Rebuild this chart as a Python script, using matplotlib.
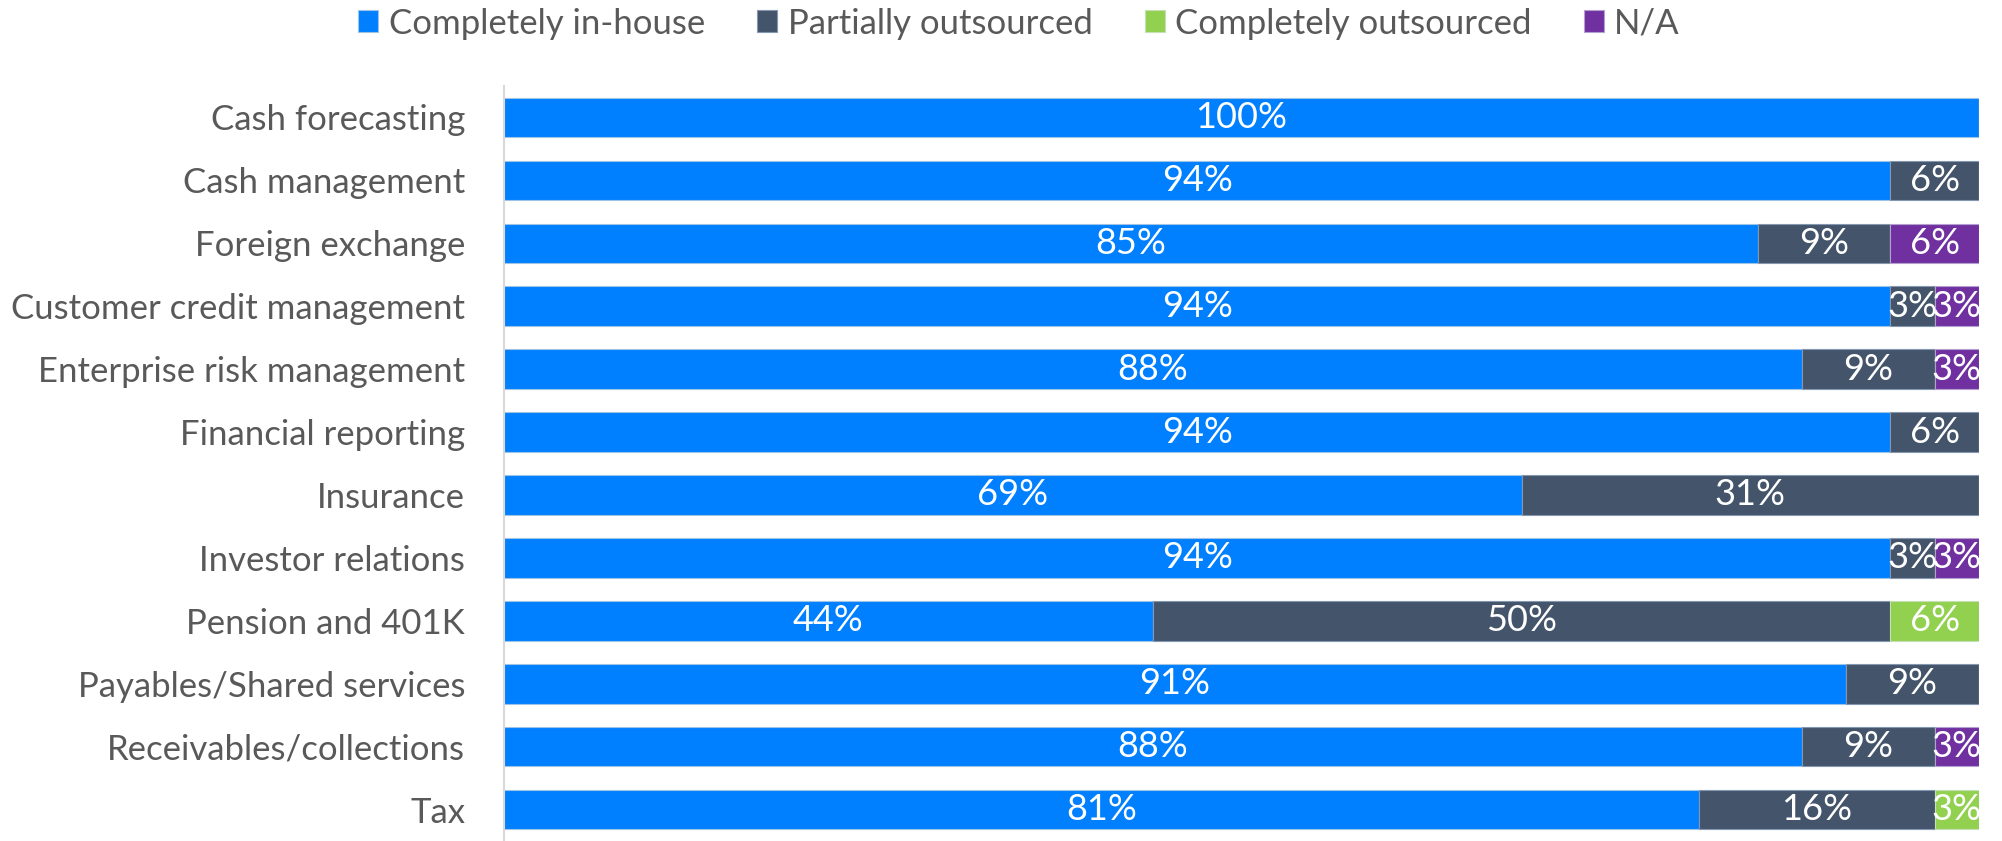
import matplotlib.pyplot as plt
import numpy as np

plt.rcParams['font.family'] = ['Lato', 'DejaVu Sans']

categories = ['Cash forecasting', 'Cash management', 'Foreign exchange',
              'Customer credit management', 'Enterprise risk management',
              'Financial reporting', 'Insurance', 'Investor relations',
              'Pension and 401K', 'Payables/Shared services',
              'Receivables/collections', 'Tax']
in_house = [100, 94, 85, 94, 88, 94, 69, 94, 44, 91, 88, 81]
partial = [0, 6, 9, 3, 9, 6, 31, 3, 50, 9, 9, 16]
outsourced = [0, 0, 0, 0, 0, 0, 0, 0, 6, 0, 0, 3]
na = [0, 0, 6, 3, 3, 0, 0, 3, 0, 0, 3, 0]

series = [('Completely in-house', in_house, '#0080FF', '#9DC3E6'),
          ('Partially outsourced', partial, '#44546A', '#8497B0'),
          ('Completely outsourced', outsourced, '#92D050', '#C5E0B4'),
          ('N/A', na, '#7030A0', '#B4A0D0')]

fig = plt.figure(figsize=(20.02, 8.41), dpi=100)
ax = fig.add_axes([0.2517, 0.0, 0.7368, 0.8977])

y = np.arange(len(categories))
left = np.zeros(len(categories))
for name, vals, color, edge in series:
    vals = np.array(vals, dtype=float)
    ax.barh(y, vals, left=left, height=0.63, color=color,
            edgecolor=edge, linewidth=0.8, label=name)
    for yi, v, l in zip(y, vals, left):
        if v > 0:
            ax.text(l + v / 2, yi, f'{int(v)}%', ha='center', va='center',
                    color='white', fontsize=26)
    left += vals

ax.set_xlim(0, 100)
ax.set_ylim(len(categories) - 0.5, -0.5)
ax.set_yticks(y)
ax.set_yticklabels(categories, fontsize=25, color='#595959')
ax.tick_params(axis='y', length=0, pad=28)
ax.set_xticks([])
for s in ['top', 'right', 'bottom']:
    ax.spines[s].set_visible(False)
ax.spines['left'].set_color('#D9D9D9')
ax.spines['left'].set_linewidth(1.5)

fig.legend(loc='center', bbox_to_anchor=(0.509, 0.972), ncol=4,
           frameon=False, fontsize=25, labelcolor='#595959',
           handlelength=0.58, handleheight=0.58, handletextpad=0.3,
           columnspacing=1.5)

fig.savefig('out.png', dpi=100)
